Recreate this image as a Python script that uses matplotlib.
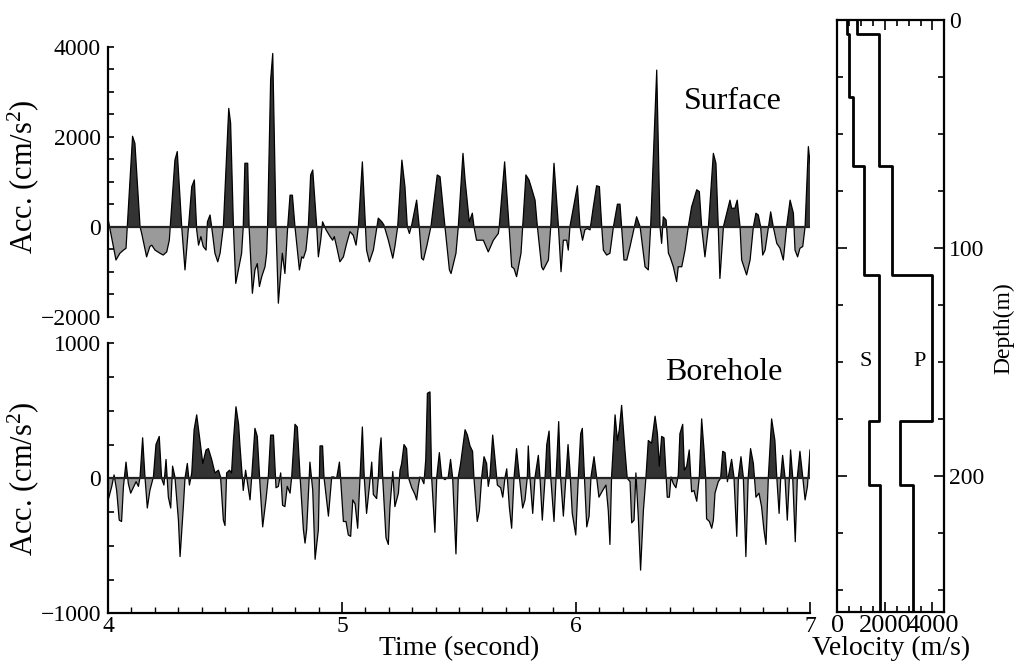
"""Surface / borehole acceleration records with the S and P velocity profile."""

import matplotlib

matplotlib.use("Agg")
import matplotlib.pyplot as plt
from matplotlib.ticker import MultipleLocator

plt.rcParams["font.family"] = ["Liberation Serif", "DejaVu Serif"]
plt.rcParams["mathtext.fontset"] = "custom"
plt.rcParams["mathtext.rm"] = "Liberation Serif"
plt.rcParams["mathtext.it"] = "Liberation Serif:italic"

# --- surface record (s, cm/s^2) ---
surface_time = [
    4.001, 4.034, 4.051, 4.066, 4.077, 4.105, 4.115, 4.137, 4.144, 4.165, 4.179, 4.187,
    4.201, 4.222, 4.236, 4.251, 4.262, 4.286, 4.296, 4.315, 4.329, 4.358, 4.369, 4.379,
    4.387, 4.397, 4.407, 4.419, 4.425, 4.436, 4.443, 4.457, 4.469, 4.479, 4.493, 4.516,
    4.524, 4.536, 4.546, 4.557, 4.571, 4.578, 4.585, 4.597, 4.603, 4.617, 4.628, 4.638,
    4.647, 4.657, 4.671, 4.678, 4.682, 4.695, 4.704, 4.718, 4.728, 4.745, 4.756, 4.768,
    4.778, 4.788, 4.799, 4.818, 4.828, 4.835, 4.846, 4.856, 4.866, 4.875, 4.892, 4.899,
    4.909, 4.917, 4.932, 4.949, 4.960, 4.967, 4.977, 4.991, 5.006, 5.020, 5.034, 5.048,
    5.060, 5.070, 5.087, 5.105, 5.117, 5.134, 5.145, 5.155, 5.170, 5.179, 5.198, 5.217,
    5.226, 5.238, 5.256, 5.269, 5.279, 5.288, 5.298, 5.319, 5.330, 5.340, 5.348, 5.362,
    5.380, 5.407, 5.419, 5.440, 5.459, 5.466, 5.487, 5.497, 5.517, 5.526, 5.544, 5.557,
    5.564, 5.575, 5.604, 5.625, 5.647, 5.668, 5.672, 5.695, 5.714, 5.725, 5.735, 5.746,
    5.765, 5.772, 5.786, 5.799, 5.808, 5.825, 5.835, 5.853, 5.860, 5.882, 5.892, 5.906,
    5.925, 5.936, 5.946, 5.960, 5.967, 5.974, 6.006, 6.017, 6.028, 6.038, 6.048, 6.060,
    6.074, 6.088, 6.100, 6.110, 6.117, 6.131, 6.145, 6.160, 6.177, 6.188, 6.195, 6.205,
    6.217, 6.231, 6.259, 6.274, 6.295, 6.309, 6.319, 6.345, 6.359, 6.366, 6.373, 6.385,
    6.395, 6.402, 6.416, 6.430, 6.437, 6.452, 6.466, 6.480, 6.494, 6.516, 6.527, 6.537,
    6.551, 6.566, 6.587, 6.598, 6.608, 6.615, 6.630, 6.658, 6.665, 6.679, 6.689, 6.701,
    6.708, 6.729, 6.744, 6.758, 6.769, 6.779, 6.789, 6.798, 6.808, 6.832, 6.843, 6.858,
    6.872, 6.886, 6.900, 6.915, 6.929, 6.936, 6.947, 6.957, 6.969, 6.979, 6.993, 7.000,
]
surface_acc = [
    150, -740, -590, -520, -480, 2010, 1850, 0, -150, -670, -440, -410,
    -520, -590, -630, -560, -300, 1480, 1670, 0, -960, 890, 1040, -70,
    -410, -220, -440, -520, 110, 260, 0, -590, -780, -590, 0, 2630,
    2300, 0, -1260, -960, -590, 0, 1410, 1410, 0, -1480, -960, -820,
    -1330, -1110, -890, -590, 0, 3260, 3850, 0, -1700, -590, -1040, 0,
    700, 700, 0, -960, -670, -700, -520, 0, 1150, 1260, 0, -670,
    -300, 110, -70, -220, -300, -220, -440, -780, -670, -370, -110, -190,
    -410, 0, 1440, -520, -780, -520, -150, 190, 110, 40, -300, -700,
    -440, 0, 1480, 890, 0, -150, 40, 590, 0, -700, -740, -440,
    0, 1150, 1110, 0, -960, -1040, -590, 0, 1630, 1040, 110, 300,
    0, -300, -300, -560, -300, -150, 0, 1440, 0, -890, -930, -1110,
    -590, 0, 1150, 1040, 890, 590, 0, -890, -960, -740, 0, 1410,
    0, -1000, -300, -300, -520, 0, 910, 0, -300, -70, -40, -70,
    440, 910, 890, 0, -520, -630, -590, 0, 500, 500, 0, -740,
    -740, -440, 220, 0, -890, -960, 0, 3480, 0, -370, 220, 150,
    -590, -670, -890, -1220, -890, -890, -520, 0, 440, 820, 780, 0,
    -670, 0, 1630, 1410, 0, -1150, 0, 590, 410, 410, 590, 0,
    -740, -1070, -740, 0, 300, 260, 0, -630, -520, 330, 0, -370,
    -480, -740, 0, 590, 300, -520, -670, -480, -440, 0, 1780, 1410,
]

# --- borehole record (s, cm/s^2) ---
borehole_time = [
    4.001, 4.016, 4.026, 4.037, 4.048, 4.058, 4.066, 4.077, 4.087, 4.097, 4.108, 4.120,
    4.130, 4.137, 4.148, 4.158, 4.168, 4.179, 4.194, 4.205, 4.219, 4.229, 4.239, 4.248,
    4.258, 4.268, 4.276, 4.286, 4.301, 4.308, 4.322, 4.329, 4.339, 4.348, 4.358, 4.368,
    4.379, 4.393, 4.405, 4.419, 4.429, 4.443, 4.457, 4.472, 4.481, 4.493, 4.500, 4.507,
    4.519, 4.528, 4.536, 4.547, 4.558, 4.564, 4.578, 4.588, 4.607, 4.614, 4.628, 4.638,
    4.650, 4.661, 4.675, 4.685, 4.695, 4.707, 4.718, 4.728, 4.738, 4.746, 4.756, 4.766,
    4.778, 4.785, 4.799, 4.809, 4.821, 4.835, 4.842, 4.849, 4.863, 4.875, 4.885, 4.899,
    4.906, 4.917, 4.923, 4.934, 4.942, 4.956, 4.963, 4.977, 4.989, 4.994, 5.006, 5.017,
    5.027, 5.037, 5.046, 5.056, 5.067, 5.077, 5.087, 5.095, 5.105, 5.117, 5.127, 5.134,
    5.148, 5.155, 5.160, 5.167, 5.174, 5.188, 5.198, 5.205, 5.217, 5.226, 5.241, 5.248,
    5.255, 5.265, 5.276, 5.283, 5.298, 5.312, 5.319, 5.326, 5.333, 5.340, 5.350, 5.358,
    5.365, 5.376, 5.383, 5.397, 5.405, 5.416, 5.426, 5.440, 5.454, 5.464, 5.473, 5.487,
    5.497, 5.507, 5.526, 5.536, 5.547, 5.558, 5.564, 5.578, 5.587, 5.597, 5.607, 5.618,
    5.625, 5.632, 5.644, 5.654, 5.664, 5.678, 5.687, 5.697, 5.704, 5.715, 5.725, 5.735,
    5.746, 5.758, 5.772, 5.782, 5.792, 5.796, 5.803, 5.815, 5.825, 5.839, 5.846, 5.856,
    5.868, 5.875, 5.885, 5.892, 5.906, 5.915, 5.926, 5.934, 5.946, 5.957, 5.966, 5.974,
    5.984, 5.999, 6.010, 6.020, 6.027, 6.036, 6.046, 6.056, 6.064, 6.077, 6.088, 6.098,
    6.114, 6.128, 6.138, 6.145, 6.152, 6.167, 6.177, 6.185, 6.195, 6.209, 6.219, 6.231,
    6.238, 6.248, 6.256, 6.266, 6.276, 6.288, 6.299, 6.309, 6.323, 6.338, 6.348, 6.356,
    6.366, 6.376, 6.385, 6.390, 6.399, 6.406, 6.416, 6.427, 6.437, 6.444, 6.456, 6.463,
    6.473, 6.484, 6.494, 6.504, 6.516, 6.527, 6.537, 6.547, 6.554, 6.558, 6.570, 6.580,
    6.587, 6.594, 6.608, 6.618, 6.627, 6.637, 6.647, 6.665, 6.675, 6.687, 6.694, 6.705,
    6.715, 6.726, 6.736, 6.746, 6.758, 6.769, 6.782, 6.793, 6.803, 6.812, 6.822, 6.836,
    6.850, 6.858, 6.868, 6.875, 6.883, 6.893, 6.903, 6.912, 6.917, 6.926, 6.937, 6.946,
    6.957, 6.969, 6.979, 6.989, 7.000,
]
borehole_acc = [
    -160, -60, 25, -90, -310, -320, -60, 120, -40, -110, -70, -25,
    -60, 10, 300, 10, -220, -90, 10, 250, 310, 0, -50, 140,
    -140, -220, 90, 10, -310, -580, -210, 0, 110, -50, 40, 360,
    470, 280, 110, 210, 220, 140, 40, 60, 10, -310, -350, 40,
    60, 40, 280, 530, 400, 240, -90, 60, -160, 10, 370, 310,
    -60, -360, -160, 10, 320, 320, -70, -60, 40, -200, -210, -60,
    -110, 10, 400, 380, 10, -380, -480, -380, 120, -90, -600, -380,
    240, 240, 10, -160, -280, 10, 10, 0, 120, 0, -320, -320,
    -420, -430, -160, -190, -370, 0, 380, 10, -260, -60, 120, -120,
    -150, 0, 190, 300, 0, -440, -490, -210, 50, -210, -110, 60,
    110, 250, 220, 10, -70, -120, -160, -60, 10, 0, -40, 140,
    630, 640, 10, -400, 10, 190, 10, -10, 10, 140, 0, -560,
    10, 110, 360, 320, 240, 200, 0, -320, -240, 10, 160, 110,
    -60, 10, 320, 140, -50, -70, -140, 10, 70, -210, -370, 0,
    220, 10, -220, -160, 10, 240, 10, -260, 10, 170, 10, -310,
    10, 250, 350, 10, -320, 10, 420, 10, -280, 10, 250, 60,
    -260, -420, 10, 330, 370, 10, -360, -280, 10, 160, 10, -140,
    -90, -50, -240, -490, 10, 470, 280, 360, 540, 210, 0, -25,
    -330, -310, 40, -280, -680, -240, 10, 280, 260, 460, 330, 90,
    310, 300, 10, -140, -140, 10, -40, -70, 25, 330, 400, 60,
    90, 210, -100, -90, -170, 10, 440, 210, 10, -300, -320, -370,
    -310, -110, -25, 0, 200, 190, -25, 140, 10, -430, 10, 160,
    10, -580, 10, 220, 110, -140, -110, -210, -380, -490, 10, 440,
    280, 10, -260, 10, 170, 10, -310, 10, 210, 10, -470, 10,
    200, 10, -160, -60, 210,
]

# --- velocity profile ---
layer_top_depth = [0, 6, 34, 64, 112, 176, 204]
layer_bottom_depth = [6, 34, 64, 112, 176, 204, 260]
s_velocity = [420, 500, 670, 1130, 1760, 1340, 1790]
p_velocity = [840, 1750, 1750, 2320, 4000, 2630, 3190]

FIG_W, FIG_H = 1021, 668
POS_COLOR = "#333333"
NEG_COLOR = "#9a9a9a"
TICK_SIZE = 17
LABEL_SIZE = 20


def axes_rect(left, top, right, bottom):
    """Rectangle in figure fractions from pixel edges."""
    return [left / FIG_W, 1 - bottom / FIG_H, (right - left) / FIG_W, (bottom - top) / FIG_H]


def draw_trace(axis, times, acc):
    axis.fill_between(times, acc, 0, where=[a >= 0 for a in acc], interpolate=True,
                      color=POS_COLOR, linewidth=0)
    axis.fill_between(times, acc, 0, where=[a <= 0 for a in acc], interpolate=True,
                      color=NEG_COLOR, linewidth=0)
    axis.plot(times, acc, color="black", linewidth=0.9)
    axis.axhline(0, color="#222222", linewidth=1.6)
    axis.set_xlim(4, 7)
    for side in ("top", "right"):
        axis.spines[side].set_visible(False)
    axis.spines["left"].set_linewidth(1.6)
    axis.spines["bottom"].set_linewidth(1.6)
    axis.tick_params(axis="y", which="both", direction="in", length=4.5, width=1.2,
                     labelsize=TICK_SIZE, pad=5)
    axis.set_ylabel(r"Acc. (cm/s$^2$)", fontsize=22, labelpad=2)


fig = plt.figure(figsize=(FIG_W / 100, FIG_H / 100), dpi=100)

ax_top = fig.add_axes(axes_rect(108, 46.7, 810, 316.7))
draw_trace(ax_top, surface_time, surface_acc)
ax_top.set_ylim(-2000, 4000)
ax_top.yaxis.set_major_locator(MultipleLocator(2000))
ax_top.yaxis.set_minor_locator(MultipleLocator(500))
ax_top.spines["bottom"].set_visible(False)
ax_top.set_xticks([])
ax_top.yaxis.set_label_coords(-0.095, 0.52)
ax_top.text(6.67, 2790, "Surface", fontsize=23, ha="center", va="center")

ax_bot = fig.add_axes(axes_rect(108, 343.3, 810, 613.3))
draw_trace(ax_bot, borehole_time, borehole_acc)
ax_bot.set_ylim(-1000, 1000)
ax_bot.yaxis.set_major_locator(MultipleLocator(1000))
ax_bot.yaxis.set_minor_locator(MultipleLocator(250))
ax_bot.xaxis.set_major_locator(MultipleLocator(1))
ax_bot.xaxis.set_minor_locator(MultipleLocator(0.1))
ax_bot.tick_params(axis="x", which="major", direction="in", length=8, width=1.2,
                   labelsize=TICK_SIZE, pad=2)
ax_bot.tick_params(axis="x", which="minor", direction="in", length=4, width=1.0)
ax_bot.set_xlabel("Time (second)", fontsize=LABEL_SIZE, labelpad=-1)
ax_bot.yaxis.set_label_coords(-0.095, 0.5)
ax_bot.text(6.63, 787, "Borehole", fontsize=23, ha="center", va="center")

ax_vel = fig.add_axes(axes_rect(837.3, 20, 944.3, 612.3))
for velocity in (s_velocity, p_velocity):
    xs, ys = [], []
    for v, top, bottom in zip(velocity, layer_top_depth, layer_bottom_depth):
        xs += [v, v]
        ys += [top, bottom]
    ax_vel.plot(xs, ys, color="black", linewidth=2.0)
ax_vel.text(1200, 150, "S", fontsize=16, ha="center", va="center")
ax_vel.text(3450, 150, "P", fontsize=16, ha="center", va="center")
ax_vel.set_xlim(0, 4500)
ax_vel.set_ylim(260, 0)
ax_vel.xaxis.set_major_locator(MultipleLocator(2000))
ax_vel.xaxis.set_minor_locator(MultipleLocator(500))
ax_vel.yaxis.set_major_locator(MultipleLocator(100))
ax_vel.yaxis.set_minor_locator(MultipleLocator(25))
ax_vel.yaxis.tick_right()
ax_vel.yaxis.set_label_position("right")
for spine in ax_vel.spines.values():
    spine.set_linewidth(1.6)
ax_vel.tick_params(which="both", direction="in", top=True, bottom=True, left=True,
                   right=True, width=1.2, labelsize=TICK_SIZE)
ax_vel.tick_params(which="major", length=7)
ax_vel.tick_params(which="minor", length=4)
ax_vel.tick_params(axis="x", pad=2, labelsize=19)
ax_vel.set_xlabel("Velocity (m/s)", fontsize=LABEL_SIZE, labelpad=-1)
ax_vel.set_ylabel("Depth(m)", fontsize=17)
ax_vel.yaxis.set_label_coords(1.46, 0.48)

fig.savefig("out.png", dpi=100)
